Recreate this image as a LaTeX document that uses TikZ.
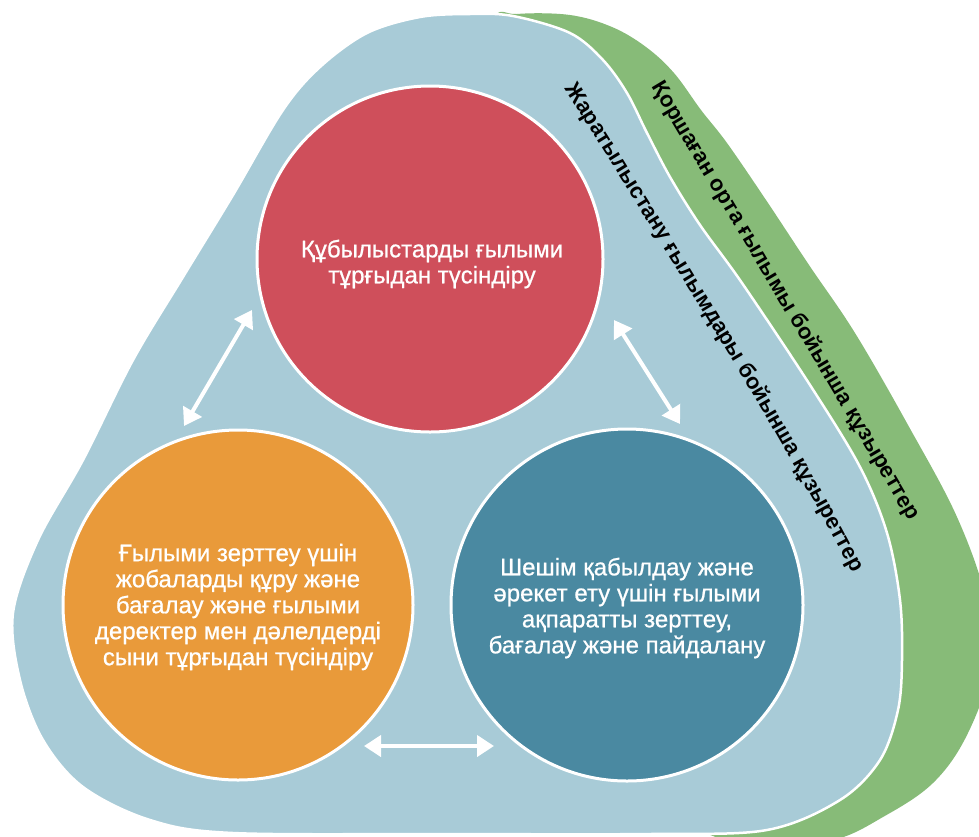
\documentclass[tikz,border=0pt]{standalone}
\usepackage{fontspec}
\setmainfont{Liberation Sans}
\usetikzlibrary{arrows.meta,decorations.text}

\definecolor{bandblue}{HTML}{A8CBD7}
\definecolor{bandgreen}{HTML}{87BB78}
\definecolor{discred}{HTML}{CF4F5B}
\definecolor{discorange}{HTML}{E99A3A}
\definecolor{discteal}{HTML}{4A89A1}

\newcommand\discfont{\addfontfeature{FakeBold=0.8}\fontsize{24}{26}\selectfont}
\newcommand\curvefont{\bfseries\fontsize{22}{22}\selectfont}

\tikzset{
  disc/.style={circle, minimum size=#1, draw=white, line width=3pt, inner sep=0pt},
  disctext/.style={text=white, align=center, font=\discfont, inner sep=0pt},
  twoway/.style={white, line width=4pt,
    {Triangle[width=21pt,length=17pt]}-{Triangle[width=21pt,length=17pt]}},
  bandtext/.style={decorate, decoration={text along path, text align=center,
    raise=-6pt, text={|\curvefont|#1}}}
}

\begin{document}
\begin{tikzpicture}[x=1pt,y=-1pt]
\useasboundingbox (0,0) rectangle (979,836);
\clip (0,0) rectangle (979,836);

% outer green band
\fill[bandgreen] plot[smooth cycle, tension=0.6] coordinates {
  (490,22) (517,14) (570,15) (612,27) (646,47) (674,73) (701,110)
  (727,143) (766,200) (809,265) (855,333) (908,425) (957,517) (986,600)
  (990,668) (967,735) (933,783) (883,817) (833,840) (760,846) (660,790)
  (520,500) (450,120)};

% inner blue band
\filldraw[fill=bandblue, draw=white, line width=2.5pt]
  plot[smooth cycle, tension=0.55] coordinates {
  (470,14) (513,16) (570,33) (603,60) (627,93) (647,133) (670,177)
  (700,225) (742,283) (810,385) (860,467) (887,533) (900,600) (902,660)
  (898,710) (880,760) (840,800) (767,830) (650,834) (450,834) (233,833)
  (150,820) (83,787) (43,740) (20,680) (13,613) (38,540) (83,460)
  (133,360) (183,277) (233,195) (283,110) (320,67) (367,33) (420,17)};

% curved captions along the bands
\coordinate (ca) at (563,74);
\coordinate (cb) at (864,582);
\coordinate (ga) at (648,70);
\coordinate (gb) at (922,532);
\path[bandtext={Жаратылыстану ғылымдары бойынша құзыреттер}]
  (ca) .. controls (658,228) and (770,400) .. (cb);
\path[bandtext={Қоршаған орта ғылымы бойынша құзыреттер}]
  (ga) .. controls (740,223) and (834,380) .. (gb);

% the three competences
\node[disc=346pt, fill=discred] (explain) at (430,259) {};
\node[disc=350pt, fill=discorange] (design) at (238,605) {};
\node[disc=352pt, fill=discteal] (decide) at (627,605) {};

\node[disctext] (explaintext) at (432,264)
  {Құбылыстарды ғылыми\\тұрғыдан түсіндіру};
\node[disctext] (designtext) at (238,607)
  {Ғылыми зерттеу үшін\\жобаларды құру және\\бағалау және ғылыми\\деректер мен дәлелдерді\\сыни тұрғыдан түсіндіру};
\node[disctext] (decidetext) at (627,608)
  {Шешім қабылдау және\\әрекет ету үшін ғылыми\\ақпаратты зерттеу,\\бағалау және пайдалану};

% two-way links between the competences
\coordinate (l1) at (252,310);
\coordinate (l2) at (184,426);
\coordinate (r1) at (614,320);
\coordinate (r2) at (680,424);
\coordinate (b1) at (364,746);
\coordinate (b2) at (494,746);
\draw[twoway] (l1) -- (l2);
\draw[twoway] (r1) -- (r2);
\draw[twoway] (b1) -- (b2);
\end{tikzpicture}
\end{document}
